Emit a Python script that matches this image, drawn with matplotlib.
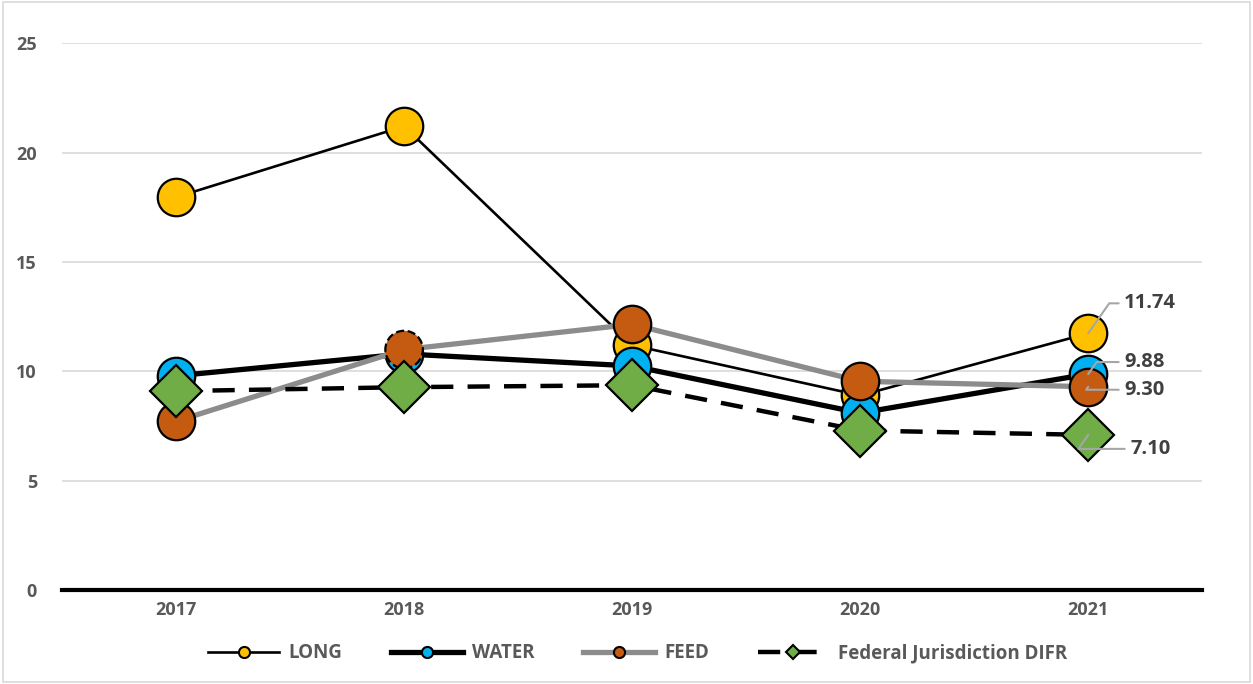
import matplotlib.pyplot as plt
from matplotlib.lines import Line2D
from matplotlib.patches import Rectangle

years = ['2017', '2018', '2019', '2020', '2021']
long_vals = [17.96, 21.2, 11.2, 8.9, 11.74]
water_vals = [9.8, 10.8, 10.25, 8.1, 9.88]
feed_vals = [7.72, 11.0, 12.15, 9.55, 9.30]
difr_vals = [9.1, 9.28, 9.37, 7.3, 7.10]

plt.rcParams['font.family'] = ['Open Sans', 'DejaVu Sans']

fig = plt.figure(figsize=(12.53, 6.84), dpi=100)
fig.patches.append(Rectangle((0.002, 0.003), 0.996, 0.994, transform=fig.transFigure,
                             fill=False, edgecolor='#d9d9d9', linewidth=1.2))
ax = fig.add_axes([0.0495, 0.137, 0.91, 0.8])

x = list(range(len(years)))
ms = 27
dash = (0, (5, 3.2))
ax.plot(x, long_vals, color='black', lw=1.9, marker='o', ms=ms,
        mfc='#FFC000', mec='black', mew=1.6, zorder=3)
ax.plot(x, water_vals, color='black', lw=3.8, marker='o', ms=ms,
        mfc='#00B0F0', mec='black', mew=1.6, zorder=4)
ax.plot(x, feed_vals, color='#8c8c8c', lw=3.8, marker='o', ms=ms,
        mfc='#C55A11', mec='black', mew=1.6, markevery=[0, 2, 3, 4], zorder=5)
# 2018 FEED point has a dashed outline in the original
ax.scatter([x[1]], [feed_vals[1]], s=(ms) ** 2, c='#C55A11', edgecolors='black',
           linewidths=1.6, linestyle='--', zorder=5.5)
ax.plot(x, difr_vals, color='black', lw=3.2, ls=dash, marker='D', ms=26,
        mfc='#70AD47', mec='black', mew=1.6, zorder=6)

ax.set_xlim(-0.5, 4.5)
ax.set_ylim(0, 25)
ax.set_yticks([0, 5, 10, 15, 20, 25])
ax.set_xticks(x)
ax.set_xticklabels(years)
ax.grid(axis='y', color='#d9d9d9', lw=1.2)
ax.set_axisbelow(True)
for s in ['left', 'right', 'top']:
    ax.spines[s].set_visible(False)
ax.spines['bottom'].set_linewidth(3)
ax.spines['bottom'].set_zorder(2)
ax.tick_params(length=0, labelsize=13, labelcolor='#595959', pad=8)
ax.tick_params(axis='y', pad=18)
for t in ax.get_xticklabels() + ax.get_yticklabels():
    t.set_fontweight('bold')

# data labels for the last year
labels = [
    (long_vals[-1], '11.74', (36, 30)),
    (water_vals[-1], '9.88', (36, 12)),
    (feed_vals[-1], '9.30', (36, -3)),
    (difr_vals[-1], '7.10', (42, -14)),
]
for val, txt, off in labels:
    ax.annotate(txt, xy=(x[-1], val), xytext=off, textcoords='offset pixels',
                fontsize=14.5, fontweight='bold', color='#404040', va='center', ha='left',
                arrowprops=dict(arrowstyle='-', color='#a6a6a6', lw=1.5,
                                shrinkA=2, shrinkB=0,
                                connectionstyle='angle,angleA=0,angleB=55,rad=0'),
                zorder=10)

handles = [
    Line2D([], [], color='black', lw=1.9, marker='o', ms=8, mfc='#FFC000', mec='black', mew=1.5),
    Line2D([], [], color='black', lw=3.8, marker='o', ms=8, mfc='#00B0F0', mec='black', mew=1.5),
    Line2D([], [], color='#8c8c8c', lw=3.8, marker='o', ms=8, mfc='#C55A11', mec='black', mew=1.5),
    Line2D([], [], color='black', lw=3.2, ls=dash, marker='D', ms=7, mfc='#70AD47', mec='black', mew=1.5),
]
names = ['LONG', 'WATER', 'FEED', 'Federal Jurisdiction DIFR']
leg = fig.legend(handles, names, loc='center', bbox_to_anchor=(0.509, 0.045), ncol=4,
                 frameon=False, handlelength=3.8, columnspacing=2.6, handletextpad=0.5,
                 prop={'size': 13.5, 'weight': 'bold'})
for t in leg.get_texts():
    t.set_color('#595959')

fig.savefig('out.png', dpi=100)
